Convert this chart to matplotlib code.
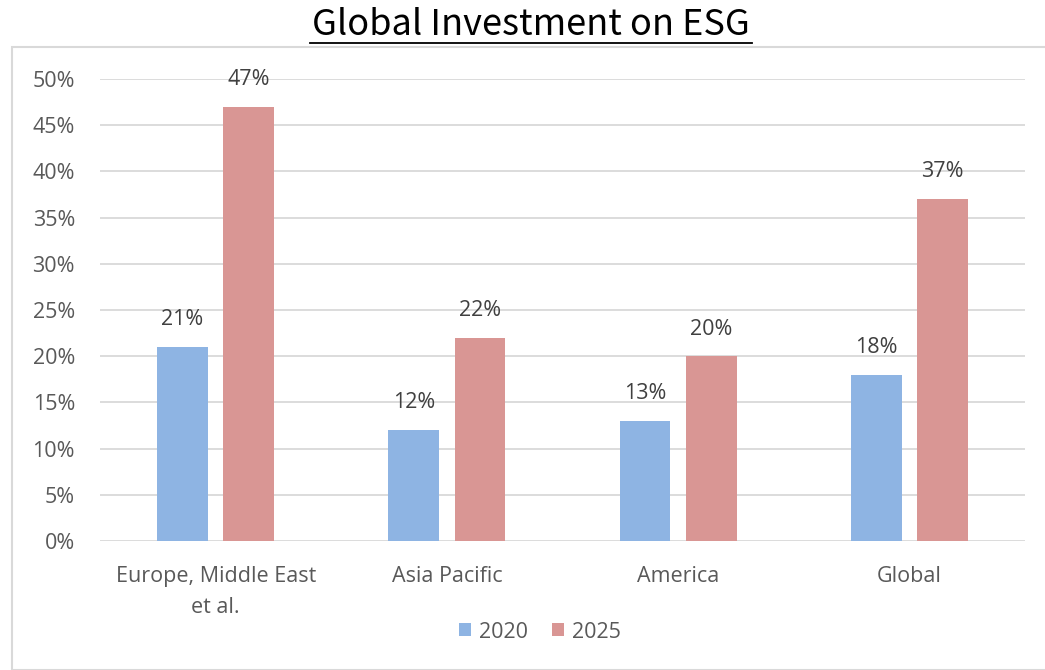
import matplotlib
matplotlib.use("Agg")
import matplotlib.pyplot as plt
from matplotlib.patches import Rectangle
from matplotlib.ticker import FuncFormatter, MultipleLocator
import numpy as np

categories = ["Europe, Middle East\net al.", "Asia Pacific", "America", "Global"]
series_names = ["2020", "2025"]
values_2020 = [21, 12, 13, 18]
values_2025 = [47, 22, 20, 37]

colors = ["#8EB4E3", "#D99694"]
text_gray = "#595959"
grid_gray = "#D9D9D9"

plt.rcParams["font.family"] = ["Open Sans", "DejaVu Sans"]

W, H = 1045, 670
fig = plt.figure(figsize=(W / 100, H / 100), dpi=100)

# chart frame
fig.patches.append(Rectangle((12 / W, 0), 1.2, 1 - 47 / H, transform=fig.transFigure,
                             fill=False, edgecolor=grid_gray, linewidth=1.5, zorder=0))

ax = fig.add_axes([100 / W, 1 - 541 / H, 925 / W, (541 - 79) / H])
x = np.arange(len(categories))
width = 0.22
offset = 0.143

b1 = ax.bar(x - offset, values_2020, width, color=colors[0], label=series_names[0], zorder=3)
b2 = ax.bar(x + offset, values_2025, width, color=colors[1], label=series_names[1], zorder=3)

for bars in (b1, b2):
    for rect in bars:
        v = rect.get_height()
        ax.annotate(f"{v:g}%", (rect.get_x() + rect.get_width() / 2, v),
                    xytext=(0, 12), textcoords="offset points", ha="center", va="bottom",
                    fontsize=15.5, color="#404040")

ax.set_xlim(-0.5, len(categories) - 0.5)
ax.set_ylim(0, 50)
ax.yaxis.set_major_locator(MultipleLocator(5))
ax.yaxis.set_major_formatter(FuncFormatter(lambda v, p: f"{v:.0f}%"))
ax.grid(axis="y", color=grid_gray, linewidth=1.3, zorder=0)
for s in ax.spines.values():
    s.set_visible(False)
ax.tick_params(axis="both", length=0, labelsize=15.5, labelcolor=text_gray)
ax.tick_params(axis="y", pad=18)
ax.tick_params(axis="x", pad=18)
ax.set_xticks(x)
ax.set_xticklabels(categories, linespacing=1.6)

leg = fig.legend(loc="center", bbox_to_anchor=(540 / W, 1 - 632 / H), ncol=2, frameon=False,
                 fontsize=15.5, handlelength=0.55, handleheight=0.55, handletextpad=0.4,
                 columnspacing=1.1)
for t in leg.get_texts():
    t.set_color(text_gray)

fig.text(531 / W, 1 - 25 / H, "Global Investment on ESG", ha="center", va="center",
         fontsize=26, color="black", family=["Noto Sans CJK KR", "DejaVu Sans"])
fig.add_artist(plt.Line2D([310 / W, 752 / W], [1 - 43 / H, 1 - 43 / H],
                          transform=fig.transFigure, color="black", linewidth=1.3))

fig.savefig("out.png", dpi=100)
